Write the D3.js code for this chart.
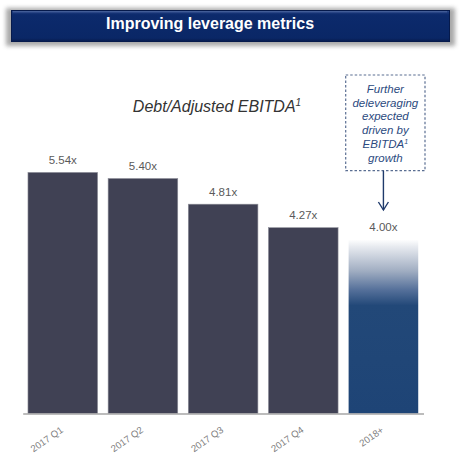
<!DOCTYPE html>
<html>
<head>
<meta charset="utf-8">
<script src="https://cdn.jsdelivr.net/npm/d3@7"></script>
<style>
  html, body { margin: 0; padding: 0; background: #ffffff; }
  svg { display: block; font-family: "Liberation Sans", Arial, sans-serif; }
</style>
</head>
<body>
<div id="chart"></div>
<script>
const categories = ["2017 Q1", "2017 Q2", "2017 Q3", "2017 Q4", "2018+"];
const values = [5.54, 5.40, 4.81, 4.27, 4.00];
const valueLabels = ["5.54x", "5.40x", "4.81x", "4.27x", "4.00x"];
const projected = [false, false, false, false, true];
const headerText = "Improving leverage metrics";
const chartTitle = "Debt/Adjusted EBITDA";
const noteLines = ["Further", "deleveraging", "expected", "driven by", "EBITDA", "growth"];

const W = 460, H = 460;
const svg = d3.select("#chart").append("svg").attr("width", W).attr("height", H);
const defs = svg.append("defs");

// shadow filter for banner
const f = defs.append("filter").attr("id", "blur").attr("x", "-10%").attr("y", "-50%").attr("width", "120%").attr("height", "200%");
f.append("feGaussianBlur").attr("stdDeviation", 2.2);

// gradient for projected bar
const g = defs.append("linearGradient").attr("id", "proj").attr("x1", 0).attr("y1", 0).attr("x2", 0).attr("y2", 1);
[[0, "#ffffff"], [0.04, "#e8ebf0"], [0.18, "#a1aec2"], [0.29, "#55709a"], [0.38, "#224878"], [1, "#1e4476"]]
  .forEach(([o, c]) => g.append("stop").attr("offset", o).attr("stop-color", c));

// banner gradient
const bg = defs.append("linearGradient").attr("id", "banner").attr("x1", 0).attr("y1", 0).attr("x2", 0).attr("y2", 1);
[[0, "#3a5592"], [0.08, "#1a3779"], [0.15, "#0c2a6c"], [0.88, "#0a2766"], [1, "#06194a"]]
  .forEach(([o, c]) => bg.append("stop").attr("offset", o).attr("stop-color", c));

// Banner
svg.append("rect").attr("x", 6).attr("y", 8).attr("width", 449).attr("height", 38)
  .attr("fill", "#8c8c8c").attr("opacity", 0.75).attr("filter", "url(#blur)");
svg.append("rect").attr("x", 11).attr("y", 10).attr("width", 439).attr("height", 32)
  .attr("fill", "url(#banner)");
svg.append("rect").attr("x", 11.5).attr("y", 10.5).attr("width", 438).attr("height", 31)
  .attr("fill", "none").attr("stroke", "#061a4c").attr("stroke-width", 1);
svg.append("line").attr("x1", 13).attr("x2", 447).attr("y1", 11.8).attr("y2", 11.8)
  .attr("stroke", "#4e67a0").attr("stroke-width", 1);
svg.append("text").attr("x", 210).attr("y", 28.5).attr("text-anchor", "middle")
  .attr("fill", "#ffffff").attr("font-weight", "bold").attr("font-size", 16)
  .text(headerText);

// Chart title
const t = svg.append("text").attr("x", 217).attr("y", 112.3).attr("text-anchor", "middle")
  .attr("fill", "#333333").attr("font-style", "italic").attr("font-size", 16);
t.append("tspan").text(chartTitle);
t.append("tspan").attr("font-size", 10).attr("dy", -6).text("1");

// Scales
const x = d3.scaleBand().domain(categories).range([22.7, 423.5]).paddingInner(0.1316).paddingOuter(0.0658);
const y = d3.scaleLinear().domain([0, 6]).range([413.5, 152.4]);

const data = categories.map((c, i) => ({ c, v: values[i], label: valueLabels[i], p: projected[i] }));

// Bars
svg.append("g").selectAll("rect").data(data).join("rect")
  .attr("x", d => x(d.c))
  .attr("y", d => y(d.v))
  .attr("width", x.bandwidth())
  .attr("height", d => y(0) - y(d.v))
  .attr("fill", d => d.p ? "url(#proj)" : "#404154")
  .attr("stroke", d => d.p ? "none" : "#8e8f99")
  .attr("stroke-width", 0.6);

// Value labels
svg.append("g").selectAll("text").data(data).join("text")
  .attr("x", d => x(d.c) + x.bandwidth() / 2)
  .attr("y", d => y(d.v) - 8.3)
  .attr("text-anchor", "middle")
  .attr("font-size", 11.5)
  .attr("fill", "#5a5a5a")
  .text(d => d.label);

// X axis
const axis = svg.append("g").attr("transform", `translate(0,${y(0)})`)
  .call(d3.axisBottom(x).tickSize(0).tickSizeOuter(0));
axis.select(".domain").attr("stroke", "#a6a6a6").attr("stroke-width", 1.5);
axis.selectAll(".tick text")
  .attr("fill", "#808080")
  .attr("font-size", 9.6)
  .attr("font-family", "\"Liberation Sans\", Arial, sans-serif")
  .attr("text-anchor", "end")
  .attr("dy", 0)
  .attr("y", 0)
  .attr("transform", "translate(1,18) rotate(-35)");

// Annotation box
const bx = 345.7, by = 75, bw = 79.3, bh = 95.7;
svg.append("rect").attr("x", bx).attr("y", by).attr("width", bw).attr("height", bh)
  .attr("fill", "#ffffff").attr("stroke", "#5a6e92").attr("stroke-width", 1.2)
  .attr("stroke-dasharray", "2.5,2");
const cx = bx + bw / 2;
const nt = svg.append("g");
noteLines.forEach((line, i) => {
  const tx = nt.append("text").attr("x", cx).attr("y", 92.8 + 13.8 * i)
    .attr("text-anchor", "middle").attr("font-style", "italic")
    .attr("font-size", 11.5).attr("fill", "#2c4a80");
  tx.append("tspan").text(line);
  if (line === "EBITDA") tx.append("tspan").attr("font-size", 7).attr("dy", -4).text("1");
});

// Arrow
const ax = x("2018+") + x.bandwidth() / 2;
svg.append("line").attr("x1", ax).attr("x2", ax).attr("y1", by + bh).attr("y2", 210)
  .attr("stroke", "#1f3a6b").attr("stroke-width", 1.4);
svg.append("path").attr("d", `M${ax - 5},${202} L${ax},${210} L${ax + 5},${202}`)
  .attr("fill", "none").attr("stroke", "#1f3a6b").attr("stroke-width", 1.4);
</script>
</body>
</html>
